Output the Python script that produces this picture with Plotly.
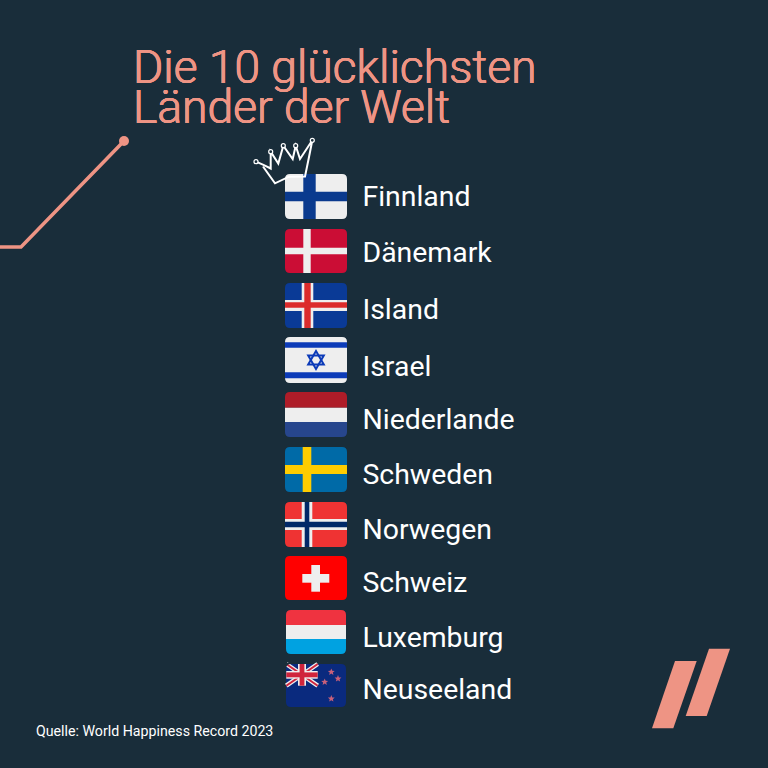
import math
import plotly.graph_objects as go

COUNTRIES = ["Finnland", "Dänemark", "Island", "Israel", "Niederlande",
             "Schweden", "Norwegen", "Schweiz", "Luxemburg", "Neuseeland"]
TITLE_LINES = ["Die 10 glücklichsten", "Länder der Welt"]
SOURCE = "Quelle: World Happiness Record 2023"

BG = "#192D3A"
SALMON = "#EE9484"
WHITE = "#FFFFFF"
FLAG_WHITE = "#EEEEEE"

LABEL_Y = [199, 255, 312, 369, 422, 477, 532, 585, 640, 692]
FLAG_BOX = [(285, 347, 174, 219), (285, 347, 229, 273), (285, 347, 283, 328), (285, 347, 337, 383),
            (285, 347, 392, 437), (285, 347, 447, 492), (285, 347, 502, 547), (285, 347, 556, 600),
            (286, 346, 610, 654), (286, 346, 664, 707)]

shapes = []


def rect(x0, x1, y0, y1, color):
    shapes.append(dict(type="rect", x0=x0, x1=x1, y0=y0, y1=y1, fillcolor=color,
                       line=dict(width=0), layer="above"))


def path(d, fill=None, line=None, width=0):
    s = dict(type="path", path=d, layer="above", line=dict(width=width, color=line or "rgba(0,0,0,0)"))
    if fill:
        s["fillcolor"] = fill
    shapes.append(s)


def poly(pts):
    return "M " + " L ".join(f"{x},{y}" for x, y in pts) + " Z"


def corner_mask(box, r=5):
    x0, x1, y0, y1 = box
    e = 1
    d = (f"M {x0-e},{y0-e} L {x0+r},{y0-e} L {x0+r},{y0} Q {x0},{y0} {x0},{y0+r} L {x0-e},{y0+r} Z "
         f"M {x1+e},{y0-e} L {x1-r},{y0-e} L {x1-r},{y0} Q {x1},{y0} {x1},{y0+r} L {x1+e},{y0+r} Z "
         f"M {x0-e},{y1+e} L {x0+r},{y1+e} L {x0+r},{y1} Q {x0},{y1} {x0},{y1-r} L {x0-e},{y1-r} Z "
         f"M {x1+e},{y1+e} L {x1-r},{y1+e} L {x1-r},{y1} Q {x1},{y1} {x1},{y1-r} L {x1+e},{y1-r} Z")
    path(d, fill=BG)


def star5(cx, cy, R, color):
    pts = []
    for i in range(10):
        rr = R if i % 2 == 0 else R * 0.45
        a = -math.pi / 2 + i * math.pi / 5
        pts.append((round(cx + rr * math.cos(a), 2), round(cy + rr * math.sin(a), 2)))
    path(poly(pts), fill=color)


# Finland
b = FLAG_BOX[0]
rect(b[0], b[1], b[2], b[3], FLAG_WHITE)
rect(303.3, 315.7, b[2], b[3], "#0A3A8E")
rect(b[0], b[1], 191.7, 201.3, "#0A3A8E")
# Denmark
b = FLAG_BOX[1]
rect(b[0], b[1], b[2], b[3], "#CB0D35")
rect(303.3, 310.7, b[2], b[3], FLAG_WHITE)
rect(b[0], b[1], 247.7, 254.3, FLAG_WHITE)
# Iceland
b = FLAG_BOX[2]
rect(b[0], b[1], b[2], b[3], "#0A3A96")
rect(301.7, 313.3, b[2], b[3], FLAG_WHITE)
rect(b[0], b[1], 300, 311, FLAG_WHITE)
rect(304.3, 310.7, b[2], b[3], "#DC2B2B")
rect(b[0], b[1], 302.3, 307.7, "#DC2B2B")
# Israel
b = FLAG_BOX[3]
rect(b[0], b[1], b[2], b[3], FLAG_WHITE)
rect(b[0], b[1], 342.3, 347.7, "#0C3BB8")
rect(b[0], b[1], 372.3, 378.3, "#0C3BB8")
path(poly([(316, 351), (323.8, 364.5), (308.2, 364.5)]), line="#0C3BB8", width=2)
path(poly([(316, 369), (323.8, 355.5), (308.2, 355.5)]), line="#0C3BB8", width=2)
# Netherlands
b = FLAG_BOX[4]
rect(b[0], b[1], b[2], 407.7, "#AE1C28")
rect(b[0], b[1], 407.7, 422, FLAG_WHITE)
rect(b[0], b[1], 422, b[3], "#27468D")
# Sweden
b = FLAG_BOX[5]
rect(b[0], b[1], b[2], b[3], "#006AA7")
rect(302.7, 311.3, b[2], b[3], "#FECC00")
rect(b[0], b[1], 465, 474, "#FECC00")
# Norway
b = FLAG_BOX[6]
rect(b[0], b[1], b[2], b[3], "#EF3333")
rect(301.7, 312.3, b[2], b[3], FLAG_WHITE)
rect(b[0], b[1], 519, 530, FLAG_WHITE)
rect(304.7, 309.3, b[2], b[3], "#002868")
rect(b[0], b[1], 521.7, 527.3, "#002868")
# Switzerland
b = FLAG_BOX[7]
rect(b[0], b[1], b[2], b[3], "#FF0000")
rect(302.3, 329.3, 574, 582.7, FLAG_WHITE)
rect(311.3, 320, 565, 591.7, FLAG_WHITE)
# Luxembourg
b = FLAG_BOX[8]
rect(b[0], b[1], b[2], 625, "#EF3340")
rect(b[0], b[1], 625, 639, FLAG_WHITE)
rect(b[0], b[1], 639, b[3], "#00A2E1")
# New Zealand
b = FLAG_BOX[9]
rect(b[0], b[1], b[2], b[3], "#0A2A7E")
cx0, cx1, cy0, cy1 = 286.3, 317.7, 664, 685.7
path(f"M {cx0},{cy0} L {cx1},{cy1} M {cx1},{cy0} L {cx0},{cy1}", line=FLAG_WHITE, width=4.5)
path(f"M {cx0},{cy0} L {cx1},{cy1} M {cx1},{cy0} L {cx0},{cy1}", line="#D0243C", width=2)
rect(298, 306, cy0, cy1, FLAG_WHITE)
rect(cx0, cx1, 671, 678.7, FLAG_WHITE)
rect(299.6, 304.4, cy0, cy1, "#D0243C")
rect(cx0, cx1, 672.4, 677.3, "#D0243C")
for sx, sy in [(331.3, 672), (338, 678.7), (324.7, 682), (331.3, 698.7)]:
    star5(sx, sy, 3.6, "#C9607A")

for b in FLAG_BOX:
    corner_mask(b)

# Crown
path("M 256,161.7 Q 264,165 270.7,168.5 L 270.7,151.7 L 278.3,163.5 L 283.3,145.7 L 292.7,159 "
     "L 295.7,145.7 L 300,159 L 312.3,140.3 Q 309.5,155 305,176.5 L 289,176.7 L 275,183.3 L 263,166.5",
     line=WHITE, width=2)
for cx, cy in [(256, 161.7), (270.7, 151.7), (283.3, 145.7), (295.7, 145.7), (312.3, 140.3)]:
    shapes.append(dict(type="circle", x0=cx - 2, x1=cx + 2, y0=cy - 2, y1=cy + 2, fillcolor=BG,
                       line=dict(color=WHITE, width=1.2), layer="above"))

# Decorative line
path("M 0,247 L 21,247 L 124,141", line=SALMON, width=3.5)
shapes.append(dict(type="circle", x0=119, x1=129, y0=136, y1=146, fillcolor=SALMON,
                   line=dict(width=0), layer="above"))

# Logo
path(poly([(675, 661), (696.7, 661), (673.3, 728.3), (652, 728.3)]), fill=SALMON)
path(poly([(709, 648.7), (730, 648.7), (706.7, 716), (685.7, 716)]), fill=SALMON)

fig = go.Figure(go.Scatter(x=[362.5] * len(COUNTRIES), y=LABEL_Y, text=COUNTRIES, mode="text",
                           textposition="middle right", hoverinfo="skip",
                           textfont=dict(family="Roboto", size=28.4, color=WHITE)))

annotations = [
    dict(x=134, y=67, text=TITLE_LINES[0]),
    dict(x=134, y=107, text=TITLE_LINES[1]),
]
for a in annotations:
    a.update(xref="x", yref="y", xanchor="left", yanchor="middle", showarrow=False,
             xshift=-3, font=dict(family="Roboto", size=46.2, color=SALMON, weight=300,
                                  shadow=f"0.4px 0 0 {SALMON}, -0.4px 0 0 {SALMON}, 0 0.4px 0 {SALMON}, 0 -0.4px 0 {SALMON}"))
annotations.append(dict(x=36, y=731, text=SOURCE, xref="x", yref="y", xanchor="left", yanchor="middle",
                        showarrow=False, xshift=-2, font=dict(family="Roboto", size=14.2, color=WHITE)))

fig.update_layout(
    width=768, height=768, margin=dict(l=0, r=0, t=0, b=0),
    paper_bgcolor=BG, plot_bgcolor=BG, showlegend=False,
    shapes=shapes, annotations=annotations,
    xaxis=dict(range=[0, 768], visible=False, fixedrange=True),
    yaxis=dict(range=[768, 0], visible=False, fixedrange=True),
)
fig.write_html("out.html", config=dict(displayModeBar=False),
               post_script="document.body.style.margin='0';document.documentElement.style.overflow='hidden';")
